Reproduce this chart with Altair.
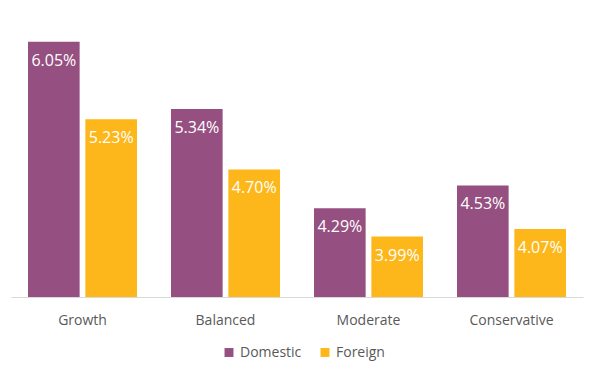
import altair as alt
import pandas as pd

categories = ["Growth", "Balanced", "Moderate", "Conservative"]
domestic = [6.05, 5.34, 4.29, 4.53]
foreign = [5.23, 4.70, 3.99, 4.07]
series = ["Domestic", "Foreign"]
colors = ["#954F80", "#FDB71A"]

rows = []
for c, d, f in zip(categories, domestic, foreign):
    rows.append({"category": c, "series": "Domestic", "value": d})
    rows.append({"category": c, "series": "Foreign", "value": f})
df = pd.DataFrame(rows)
df["label"] = df["value"].map(lambda v: f"{v:.2f}%")

FONT = "Open Sans"

x = alt.X("category:N", sort=categories, title=None,
          scale=alt.Scale(paddingInner=0.238, paddingOuter=0.119),
          axis=alt.Axis(labelAngle=0, ticks=False, domainColor="#D9D9D9", domainWidth=1,
                        labelFont=FONT, labelFontSize=14, labelColor="#595959",
                        labelPadding=16))
xo = alt.XOffset("series:N", sort=series, scale=alt.Scale(paddingInner=0.1, paddingOuter=0))
y = alt.Y("value:Q", axis=None, scale=alt.Scale(domain=[3.35, 6.35], zero=False, nice=False))

bars = alt.Chart(df).mark_bar(clip=True).encode(
    x=x, xOffset=xo, y=y,
    color=alt.Color("series:N", sort=series,
                    scale=alt.Scale(domain=series, range=colors),
                    legend=alt.Legend(title=None, orient="none", direction="horizontal",
                                      legendX=211, legendY=332, symbolType="square",
                                      symbolSize=80, symbolStrokeWidth=0,
                                      labelFont=FONT, labelFontSize=14, labelColor="#595959",
                                      columnPadding=16, labelOffset=4)),
)

text = alt.Chart(df).mark_text(baseline="middle", dy=19, color="white",
                               font=FONT, fontSize=16).encode(
    x=x, xOffset=xo, y=y, text="label:N"
)

chart = (bars + text).properties(
    width=572, height=283.5,
    padding={"left": 11, "top": 13.5, "right": 17, "bottom": 80},
    autosize=alt.AutoSizeParams(type="none"),
    background="white",
).configure_view(strokeWidth=0)

chart.save("out.html", embed_options={"renderer": "svg", "actions": False})
